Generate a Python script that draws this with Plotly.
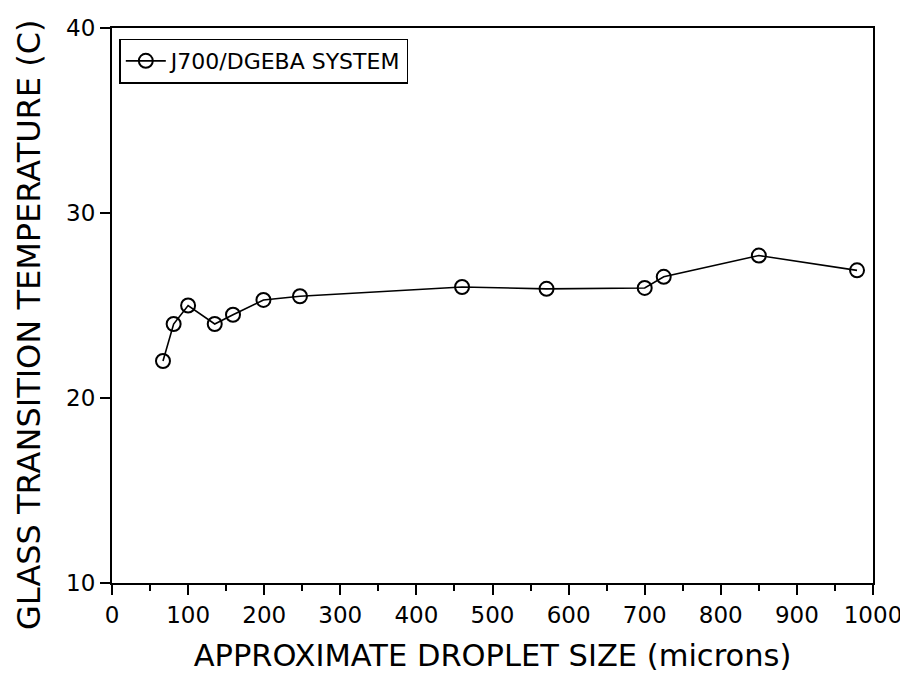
import plotly.graph_objects as go

droplet_size = [67, 81, 100, 135, 159, 199, 247, 460, 571, 700, 725, 850, 979]
tg_celsius = [22.0, 24.0, 25.0, 24.0, 24.5, 25.3, 25.5, 26.0, 25.9, 25.95, 26.55, 27.7, 26.9]
series_name = "J700/DGEBA SYSTEM"
x_ticks = [0, 100, 200, 300, 400, 500, 600, 700, 800, 900, 1000]
y_ticks = [10, 20, 30, 40]

FONT = "DejaVu Sans"

fig = go.Figure()
fig.add_trace(go.Scatter(
    x=droplet_size, y=tg_celsius, name=series_name,
    mode="lines+markers",
    line=dict(color="black", width=1.6),
    marker=dict(symbol="circle-open", size=14, color="black", line=dict(width=2, color="black")),
))

fig.add_annotation(
    text="GLASS TRANSITION TEMPERATURE (C)", textangle=-90,
    xref="paper", yref="paper", x=-0.109, y=0.465, xanchor="center", yanchor="middle",
    showarrow=False, font=dict(size=32, family=FONT, color="black"),
)

fig.update_layout(
    width=908, height=681,
    margin=dict(l=104, r=43, t=20, b=106, autoexpand=False),
    paper_bgcolor="white", plot_bgcolor="white",
    font=dict(family=FONT, color="black", size=20),
    showlegend=True,
    legend=dict(x=0.0096, y=0.981, xanchor="left", yanchor="top",
                bordercolor="black", borderwidth=1.5, bgcolor="white",
                font=dict(size=22, family=FONT), itemwidth=40,
                tracegroupgap=0),
    xaxis=dict(
        range=[0, 1000], tickvals=x_ticks, ticktext=[str(v) for v in x_ticks],
        showline=True, linecolor="black", linewidth=2, mirror=True,
        ticks="outside", ticklen=10, tickwidth=1.5, tickcolor="black",
        minor=dict(dtick=50, ticks="outside", ticklen=6, tickwidth=1.5, tickcolor="black"),
        showgrid=False, zeroline=False, automargin=False,
        tickfont=dict(size=23),
        title=dict(text="APPROXIMATE DROPLET SIZE (microns)", font=dict(size=30.5), standoff=18),
    ),
    yaxis=dict(
        range=[10, 40], tickvals=y_ticks, ticktext=[str(v) for v in y_ticks],
        showline=True, linecolor="black", linewidth=2, mirror=True,
        ticks="outside", ticklen=10, tickwidth=1.5, tickcolor="black",
        showgrid=False, zeroline=False, automargin=False,
        tickfont=dict(size=23),
    ),
)

fig.write_html("out.html")
